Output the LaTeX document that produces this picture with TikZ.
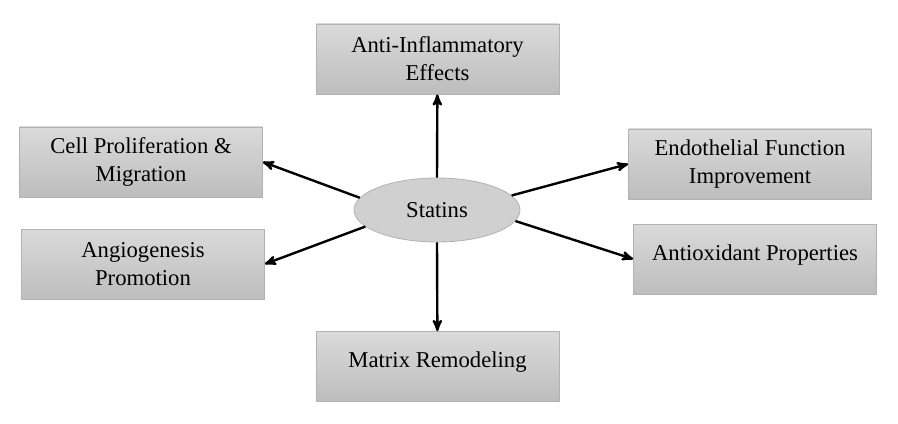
\documentclass[tikz,border=0pt]{standalone}
\usepackage{fontspec}
\setmainfont{Liberation Serif}
\usetikzlibrary{arrows,shapes.geometric}

\definecolor{boxtop}{RGB}{218,218,218}
\definecolor{boxbot}{RGB}{189,189,189}
\definecolor{boxline}{RGB}{178,178,178}
\definecolor{ellfill}{RGB}{208,208,208}

\begin{document}
\begin{tikzpicture}[->,>=stealth',x=0.75pt,y=-0.75pt,line width=1.8pt,
                    font=\fontsize{17}{21}\selectfont]
  \tikzstyle{effect}=[rectangle,draw=boxline,line width=0.6pt,top color=boxtop,
                      bottom color=boxbot,minimum width=182.25pt,minimum height=52.5pt,
                      inner sep=0pt,text=black,align=center]
  \tikzstyle{oneline}=[align=none,text depth=10pt]
  \tikzstyle{hub}=[ellipse,draw=boxline,line width=0.6pt,fill=ellfill,
                   minimum width=124.5pt,minimum height=48pt,inner sep=0pt]

  \useasboundingbox (0,0) rectangle (898,424);

  \node[hub]    (st)    at (437,210)   {Statins};
  \node[effect] (anti)  at (437.5,59)  {Anti-Inflammatory\\Effects};
  \node[effect] (cell)  at (141,162)   {Cell Proliferation \&\\Migration};
  \node[effect] (angio) at (143,264)   {Angiogenesis\\Promotion};
  \node[effect] (endo)  at (750,164)   {Endothelial Function\\Improvement};
  \node[effect,oneline] (oxid) at (755,259) {Antioxidant Properties};
  \node[effect,oneline] (matr) at (437.5,366.5) {Matrix Remodeling};

  \path (st.north) edge (anti)
        (st.south) edge (matr)
        (st.171)   edge (cell.east)
        (st.193.5) edge (angio.east)
        (st.11)    edge (endo.west)
        (st.-8.5)  edge (oxid.west);
\end{tikzpicture}
\end{document}
